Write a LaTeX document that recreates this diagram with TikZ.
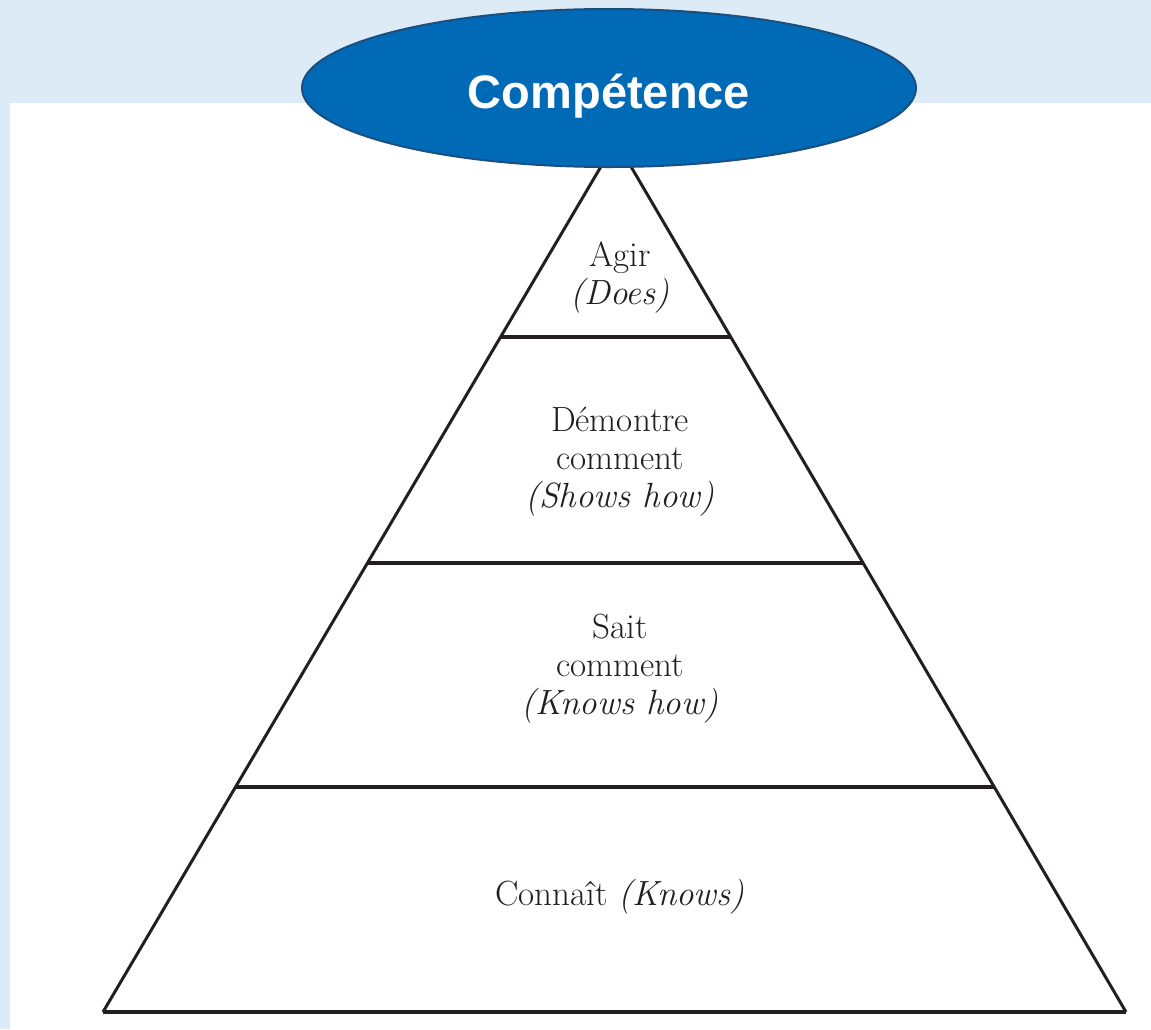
\documentclass[tikz,border=0pt]{standalone}
\usepackage{fontspec}
\newfontfamily\headfont{Liberation Sans}
\usetikzlibrary{shapes.geometric,calc}

\definecolor{bandblue}{HTML}{DDEBF7}
\definecolor{capblue}{HTML}{006AB6}
\definecolor{capedge}{HTML}{1B4F80}
\definecolor{ink}{HTML}{231F20}

\begin{document}
\begin{tikzpicture}[x=1pt,y=-1pt]
  \tikzset{
    side/.style={draw=ink, line width=3pt},
    tier/.style={draw=ink, line width=4.5pt},
    level/.style={align=center, text=ink, font=\fontsize{35}{38}\selectfont},
    capsule/.style={ellipse, fill=capblue, draw=capedge, line width=2pt,
      minimum width=614pt, minimum height=158pt, inner sep=0pt},
    title/.style={text=white, font=\headfont\bfseries\fontsize{47}{56}\selectfont},
  }

  % background band
  \useasboundingbox (0,0) rectangle (1151,1029);
  \fill[white] (0,0) rectangle (1151,1029);
  \fill[bandblue] (0,0) rectangle (1151,103);
  \fill[bandblue] (0,0) rectangle (10,1029);

  % pyramid
  \coordinate (apex) at (616,141);
  \coordinate (bl) at (103,1012);
  \coordinate (br) at (1126,1012);

  \draw[side] (bl) -- (apex) -- (br);
  \draw[tier] (bl) -- (br);
  \foreach \t/\n in {0.225/top,0.4845/mid,0.7417/low}{
    \coordinate (\n l) at ($(apex)!\t!(bl)$);
    \coordinate (\n r) at ($(apex)!\t!(br)$);
    \draw[tier] (\n l) -- (\n r);
  }

  \node[level] (does) at (620,278) {Agir\\\textit{(Does)}};
  \node[level] (showshow) at (620,462) {Démontre\\comment\\\textit{(Shows how)}};
  \node[level] (knowshow) at (620,669) {Sait\\comment\\\textit{(Knows how)}};
  \node[level] (knows) at (620,897) {Connaît \textit{(Knows)}};

  % competence capsule
  \node[capsule] (comp) at (609,88) {};
  \node[title, anchor=base] (comptext) at (609,108) {Compétence};

\end{tikzpicture}
\end{document}
